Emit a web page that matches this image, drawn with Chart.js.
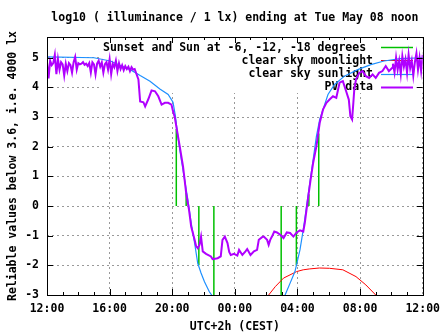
<!DOCTYPE html>
<html>
<head>
<meta charset="utf-8">
<script src="https://cdn.jsdelivr.net/npm/chart.js@4/dist/chart.umd.min.js"></script>
<style>
  html, body { margin: 0; padding: 0; background: #fff; }
  #wrap { width: 447px; height: 335px; }
</style>
</head>
<body>
<div id="wrap"><canvas id="lux" width="447" height="335"></canvas></div>
<script>
// hours after 12:00 on the day before
const xTicks = [0, 4, 8, 12, 16, 20, 24];
const xTickLabels = ['12:00', '16:00', '20:00', '00:00', '04:00', '08:00', '12:00'];
const yTicks = [-3, -2, -1, 0, 1, 2, 3, 4, 5];

const sunEventT = [8.26, 8.89, 9.70, 10.66, 14.96, 15.93, 16.73, 17.36];
const sunEventV = [2.6, 0.45, -2.0, -3.0, -3.0, -2.0, 0.4, 2.45];

const moonT = [14.05, 14.16, 14.58, 15.11, 15.95, 16.37, 16.79, 17.4, 18.05, 18.9, 19.74, 20.37, 21.0, 21.1];
const moonV = [-3.1, -3.0, -2.72, -2.43, -2.21, -2.15, -2.12, -2.09, -2.10, -2.15, -2.38, -2.66, -3.0, -3.1];

const sunT = [0, 3.0, 4.05, 4.69, 5.32, 5.95, 6.58, 7.21, 7.74, 8.05, 8.2, 8.37, 8.58, 8.79, 9.0, 9.21, 9.43, 9.63, 9.84, 10.06, 10.37, 10.52, 10.6,
  12,
  15.15, 15.21, 15.53, 15.84, 16.16, 16.37, 16.58, 16.79, 17.0, 17.21, 17.42, 17.63, 17.95, 18.37, 19.0, 19.85, 20.69, 21.53, 22.58, 24];
const sunV = [5.03, 5.0, 4.89, 4.74, 4.6, 4.4, 4.21, 3.95, 3.76, 3.5, 3.05, 2.3, 1.56, 0.89, 0.21, -0.57, -1.25, -1.93, -2.26, -2.55, -2.89, -3.0, -3.1,
  null,
  -3.1, -3.0, -2.6, -2.21, -1.48, -0.8, -0.01, 0.78, 1.56, 2.35, 2.92, 3.25, 3.76, 4.1, 4.38, 4.6, 4.77, 4.89, 4.97, 5.0];

const pvT = [0.0, 0.1, 0.2, 0.3, 0.4, 0.5, 0.6, 0.7, 0.8, 0.9, 1.0, 1.1, 1.2, 1.3, 1.4, 1.5, 1.6, 1.7, 1.8, 1.9,
  2.0, 2.1, 2.2, 2.3, 2.4, 2.5, 2.6, 2.7, 2.8, 2.9, 3.0, 3.1, 3.2, 3.3, 3.4, 3.5, 3.6, 3.7, 3.8, 3.9,
  4.0, 4.1, 4.2, 4.3, 4.4, 4.5, 4.6, 4.7, 4.8, 4.9, 5.0, 5.1, 5.2, 5.3, 5.4, 5.5, 5.6,
  5.84, 5.95, 6.16, 6.27, 6.47, 6.68, 6.9, 7.11, 7.32, 7.53, 7.74, 7.95, 8.05, 8.16, 8.26, 8.48, 8.69, 8.89,
  9.07, 9.21, 9.43, 9.53, 9.63, 9.74, 9.84, 9.95, 10.16, 10.47, 10.58, 10.9, 11.1, 11.21, 11.36, 11.53, 11.64,
  11.74, 11.95, 12.16, 12.27, 12.48, 12.68, 12.79, 13.0, 13.22, 13.42, 13.53, 13.74, 13.85, 14.06, 14.16,
  14.26, 14.37, 14.52, 14.69, 14.9, 15.11, 15.32, 15.53, 15.74, 15.95, 16.16, 16.37, 16.47, 16.58, 16.69,
  16.84, 17.0, 17.21, 17.42, 17.63, 17.85, 18.05, 18.27, 18.48, 18.69, 18.9, 19.11, 19.28, 19.38, 19.49,
  19.57, 19.63, 19.74, 19.95, 20.16, 20.37, 20.58, 20.8, 21.0, 21.21, 21.43, 21.64, 21.84, 22.06,
  22.1, 22.2, 22.3, 22.4, 22.5, 22.6, 22.7, 22.8, 22.9, 23.0, 23.1, 23.2, 23.3, 23.4, 23.5, 23.6, 23.7, 23.8, 23.9, 24.0];
const pvV = [4.85, 4.3, 4.9, 4.75, 4.82, 5.1, 4.45, 4.95, 4.6, 4.85, 4.78, 4.4, 4.8, 4.55, 4.82, 4.75, 4.5, 4.85, 5.03, 4.6,
  4.82, 4.78, 4.8, 4.85, 4.76, 4.8, 4.72, 4.82, 4.5, 4.85, 4.78, 4.44, 4.8, 4.9, 4.7, 4.84, 4.5, 4.78, 4.85, 4.6,
  4.95, 4.45, 4.8, 4.68, 4.9, 4.55, 4.82, 4.62, 4.75, 4.58, 4.72, 4.62, 4.7, 4.55, 4.68, 4.6, 4.62,
  4.27, 3.53, 3.5, 3.36, 3.6, 3.9, 3.87, 3.7, 3.42, 3.48, 3.48, 3.42, 3.2, 3.0, 2.69, 2.01, 1.34, 0.44,
  -0.12, -0.69, -1.14, -1.36, -1.42, -1.31, -1.03, -1.53, -1.61, -1.70, -1.79, -1.76, -1.70, -1.14, -1.03, -1.25, -1.55,
  -1.65, -1.61, -1.67, -1.48, -1.65, -1.53, -1.45, -1.65, -1.53, -1.48, -1.14, -1.05, -1.03, -1.14, -1.31,
  -1.14, -1.03, -0.86, -0.89, -0.97, -1.08, -0.89, -0.91, -1.03, -0.89, -0.82, -0.86, -0.57, -0.12, 0.32,
  0.89, 1.45, 2.01, 2.8, 3.25, 3.48, 3.59, 3.70, 3.65, 4.16, 4.21, 3.87, 3.59, 3.03, 2.92,
  3.48, 3.93, 4.27, 4.49, 4.55, 4.38, 4.32, 4.44, 4.32, 4.49, 4.55, 4.72, 4.55, 4.66,
  4.8, 4.5, 5.0, 4.6, 4.9, 4.45, 5.05, 4.7, 4.95, 4.5, 5.1, 4.65, 4.9, 4.4, 4.85, 5.15, 4.6, 5.0, 4.55, 5.1];

const FONT = 'bold 11.5px "DejaVu Sans Mono", monospace';
Chart.defaults.font.family = '"DejaVu Sans Mono", monospace';
Chart.defaults.font.size = 11.5;
Chart.defaults.font.weight = 'bold';
Chart.defaults.color = '#000';

function pts(ts, vs) {
  return ts.map((t, i) => ({ x: t, y: vs[i] }));
}

// each sun event is an impulse from 0 to its value
const impulses = [];
sunEventT.forEach((t, i) => {
  impulses.push({ x: t, y: 0 }, { x: t, y: sunEventV[i] }, { x: t, y: null });
});

const frame = {
  id: 'frame',
  beforeDatasetsDraw(chart) {
    const { ctx, chartArea: a } = chart;
    ctx.save();
    ctx.font = FONT;
    const textRight = 373;
    let w = 0;
    chart.data.datasets.forEach(ds => { w = Math.max(w, ctx.measureText(ds.label).width); });
    ctx.fillStyle = '#fff';
    ctx.fillRect(textRight - w - 4, a.top + 1, a.right - (textRight - w - 4), 92 - a.top);
    ctx.textAlign = 'right';
    ctx.textBaseline = 'middle';
    chart.data.datasets.forEach((ds, i) => {
      const y = 47.3 + i * 13.1;
      ctx.fillStyle = '#000';
      ctx.fillText(ds.label, textRight, y + 0.5);
      ctx.strokeStyle = ds.borderColor;
      ctx.lineWidth = ds.borderWidth;
      ctx.beginPath();
      ctx.moveTo(381, Math.round(y) + 0.5);
      ctx.lineTo(413, Math.round(y) + 0.5);
      ctx.stroke();
    });
    ctx.restore();
  },
  afterDraw(chart) {
    const { ctx, chartArea: a, scales } = chart;
    ctx.save();
    ctx.strokeStyle = '#000';
    ctx.lineWidth = 1;
    ctx.beginPath();
    for (let h = 1; h < 24; h++) {
      const x = Math.round(scales.x.getPixelForValue(h)) + 0.5;
      const len = h % 4 === 0 ? 6 : 3;
      ctx.moveTo(x, a.bottom); ctx.lineTo(x, a.bottom - len);
      ctx.moveTo(x, a.top); ctx.lineTo(x, a.top + len);
    }
    yTicks.forEach(v => {
      const y = Math.round(scales.y.getPixelForValue(v)) + 0.5;
      ctx.moveTo(a.left, y); ctx.lineTo(a.left + 6, y);
      ctx.moveTo(a.right, y); ctx.lineTo(a.right - 6, y);
    });
    ctx.stroke();
    ctx.strokeRect(Math.round(a.left) + 0.5, Math.round(a.top) + 0.5,
      Math.round(a.right - a.left), Math.round(a.bottom - a.top));
    ctx.font = FONT;
    ctx.fillStyle = '#000';
    ctx.textAlign = 'center';
    ctx.textBaseline = 'middle';
    ctx.fillText('log10 ( illuminance / 1 lx) ending at Tue May 08 noon', (a.left + a.right) / 2, 18);
    ctx.restore();
  }
};

new Chart(document.getElementById('lux'), {
  type: 'line',
  data: {
    datasets: [
      {
        label: 'Sunset and Sun at -6, -12, -18 degrees ',
        data: impulses,
        borderColor: '#00c000',
        borderWidth: 1.5,
        order: 4
      },
      {
        label: 'clear sky moonlight',
        data: pts(moonT, moonV),
        borderColor: '#ff0000',
        borderWidth: 1,
        order: 3
      },
      {
        label: 'clear sky sunlight',
        data: pts(sunT, sunV),
        borderColor: '#1e90ff',
        borderWidth: 1.2,
        order: 2
      },
      {
        label: 'PV data',
        data: pts(pvT, pvV),
        borderColor: '#b000ff',
        borderWidth: 2,
        order: 1
      }
    ]
  },
  plugins: [frame],
  options: {
    responsive: false,
    animation: false,
    events: [],
    elements: { point: { radius: 0 }, line: { tension: 0 } },
    layout: { padding: { left: 0, right: 20, top: 37, bottom: 0 } },
    plugins: { legend: { display: false }, tooltip: { enabled: false }, title: { display: false } },
    scales: {
      x: {
        type: 'linear',
        min: 0,
        max: 24,
        afterBuildTicks: s => { s.ticks = xTicks.map(v => ({ value: v })); },
        afterFit: s => { s.height = 40; },
        ticks: {
          autoSkip: false,
          maxRotation: 0,
          padding: 7,
          callback: (v, i) => xTickLabels[i]
        },
        grid: { color: '#999', drawTicks: false },
        border: { display: false, dash: [2, 3] },
        title: { display: true, text: 'UTC+2h (CEST)', padding: { top: 0, bottom: 1 } }
      },
      y: {
        min: -3,
        max: 5.7,
        afterBuildTicks: s => { s.ticks = yTicks.map(v => ({ value: v })); },
        afterFit: s => { s.width = 47; },
        ticks: { padding: 8, callback: v => String(v) },
        grid: { color: '#999', drawTicks: false },
        border: { display: false, dash: [2, 3] },
        title: { display: true, text: 'Reliable values below 3.6, i.e. 4000 lx', padding: { top: 6, bottom: 0 } }
      }
    }
  }
});
</script>
</body>
</html>
